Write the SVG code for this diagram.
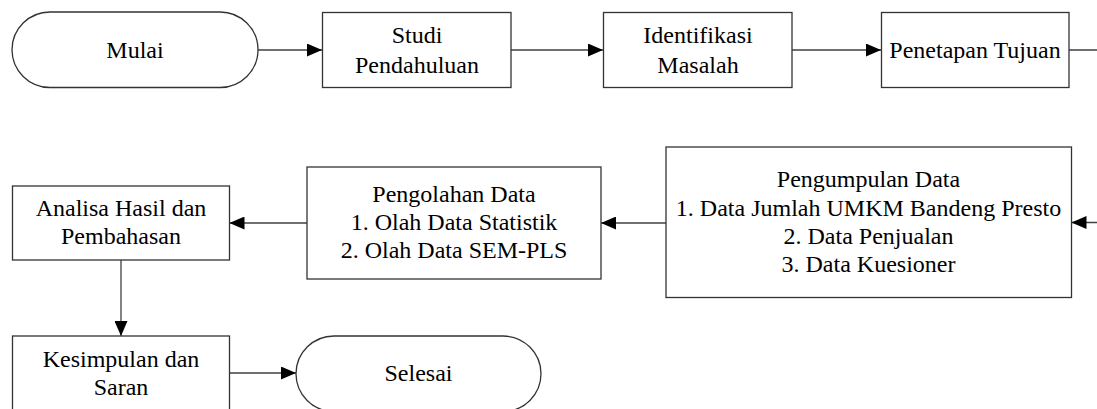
<svg xmlns="http://www.w3.org/2000/svg" width="1097" height="409" viewBox="0 0 1097 409">
<style>
.box{fill:#fff;stroke:#333;stroke-width:1.3}
.c{fill:none;stroke:#404040;stroke-width:1.3}
text{font-family:"Liberation Serif","Times New Roman",serif;font-size:24px;fill:#000;text-anchor:middle}
</style>
<defs>
<marker id="ah" markerUnits="userSpaceOnUse" markerWidth="15" markerHeight="13" refX="15" refY="6.5" orient="auto">
<path d="M0,0 L15,6.5 L0,13 z" fill="#000"/>
</marker>
</defs>
<rect width="1097" height="409" fill="#fff"/>
<g id="connectors">
<line class="c" x1="258" y1="50" x2="322" y2="50" marker-end="url(#ah)"/>
<line class="c" x1="511" y1="50" x2="603" y2="50" marker-end="url(#ah)"/>
<line class="c" x1="792" y1="50" x2="881" y2="50" marker-end="url(#ah)"/>
<path class="c" d="M1069,50 H1102 V222.5 H1071.5" marker-end="url(#ah)"/>
<line class="c" x1="666" y1="223" x2="601" y2="223" marker-end="url(#ah)"/>
<line class="c" x1="307" y1="223" x2="229.5" y2="223" marker-end="url(#ah)"/>
<line class="c" x1="121" y1="260" x2="121" y2="336" marker-end="url(#ah)"/>
<line class="c" x1="229.5" y1="373" x2="296" y2="373" marker-end="url(#ah)"/>
</g>
<g id="mulai">
<rect class="box" x="12" y="12" width="246" height="75.5" rx="38" ry="37.75"/>
<text x="135" y="58">Mulai</text>
</g>
<g id="studi">
<rect class="box" x="322.5" y="12.5" width="188.5" height="75"/>
<text x="417" y="43">Studi</text>
<text x="417" y="73">Pendahuluan</text>
</g>
<g id="identifikasi">
<rect class="box" x="603.5" y="12.5" width="188.5" height="75"/>
<text x="698" y="43">Identifikasi</text>
<text x="698" y="73">Masalah</text>
</g>
<g id="penetapan">
<rect class="box" x="881.5" y="12.5" width="187.5" height="75"/>
<text x="975" y="58">Penetapan Tujuan</text>
</g>
<g id="pengumpulan">
<rect class="box" x="666" y="147" width="405.5" height="150.5"/>
<text x="868.5" y="187">Pengumpulan Data</text>
<text x="868.5" y="216">1. Data Jumlah UMKM Bandeng Presto</text>
<text x="868.5" y="244">2. Data Penjualan</text>
<text x="868.5" y="272">3. Data Kuesioner</text>
</g>
<g id="pengolahan">
<rect class="box" x="307" y="167" width="294" height="112"/>
<text x="454" y="202">Pengolahan Data</text>
<text x="454" y="230">1. Olah Data Statistik</text>
<text x="454" y="258">2. Olah Data SEM-PLS</text>
</g>
<g id="analisa">
<rect class="box" x="12.5" y="186" width="217" height="74"/>
<text x="121" y="216">Analisa Hasil dan</text>
<text x="121" y="244">Pembahasan</text>
</g>
<g id="kesimpulan">
<rect class="box" x="12.5" y="336" width="217" height="76"/>
<text x="121" y="367">Kesimpulan dan</text>
<text x="121" y="395">Saran</text>
</g>
<g id="selesai">
<rect class="box" x="296" y="336" width="245" height="75.5" rx="38" ry="37.75"/>
<text x="418.5" y="381">Selesai</text>
</g>
</svg>
